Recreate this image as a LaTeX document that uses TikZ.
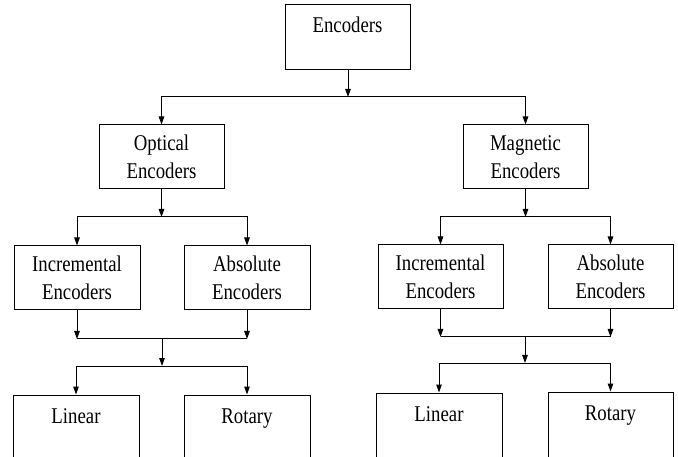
\documentclass[tikz,border=0pt]{standalone}
\usepackage{fontspec}
\setmainfont{Liberation Serif}[FakeStretch=0.835]
\usetikzlibrary{arrows.meta}

\tikzset{
  box/.style={draw, line width=1pt, inner sep=0pt, align=center,
    minimum width=125pt, minimum height=64pt,
    font=\fontsize{22.5}{28}\selectfont},
  topbox/.style={box, text height=16pt, text depth=#1},
  link/.style={line width=1pt},
  arr/.style={link, -{Triangle[length=8pt,width=5.5pt]}},
}

\begin{document}
\begin{tikzpicture}[x=1pt, y=-1pt]
  \useasboundingbox (0,0) rectangle (678,457);
  \clip (0,0) rectangle (678,457);

  % root
  \node[topbox=25pt, minimum height=65pt] (enc) at (347.5,37.5) {Encoders};

  % second level
  \node[box] (opt) at (161.5,157) {Optical\\Encoders};
  \node[box] (mag) at (525.5,157) {Magnetic\\Encoders};

  % third level
  \node[box, minimum width=126pt] (inc1) at (77,278)    {Incremental\\Encoders};
  \node[box, minimum width=126pt] (abs1) at (247,278)   {Absolute\\Encoders};
  \node[box] (inc2) at (440.5,277) {Incremental\\Encoders};
  \node[box] (abs2) at (610.5,277) {Absolute\\Encoders};

  % bottom level (runs past the lower edge)
  \node[topbox=40pt, minimum height=80pt, minimum width=126pt] (lin1) at (76,435)  {Linear};
  \node[topbox=40pt, minimum height=80pt, minimum width=126pt] (rot1) at (247,435) {Rotary};
  \node[topbox=40pt, minimum height=80pt, minimum width=126pt] (lin2) at (439,433) {Linear};
  \node[topbox=40pt, minimum height=80pt] (rot2) at (610.5,432) {Rotary};

  % junction points
  \coordinate (j0) at (348,97);
  \coordinate (jl) at (161.5,217);
  \coordinate (jr) at (525.5,217);
  \coordinate (ml) at (162,339);
  \coordinate (sl) at (162,366);
  \coordinate (mr) at (525,337);
  \coordinate (sr) at (525,363);

  % root split
  \draw[arr] (enc.south -| j0) -- (j0);
  \draw[arr] (j0) -| (opt.north);
  \draw[arr] (j0) -| (mag.north);

  % optical branch
  \draw[arr] (opt.south) -- (jl);
  \draw[arr] (jl) -| (inc1.north);
  \draw[arr] (jl) -| (abs1.north);
  \draw[arr] (inc1.south) -- (inc1.south |- ml);
  \draw[arr] (abs1.south) -- (abs1.south |- ml);
  \draw[link] (inc1.south |- ml) -- (abs1.south |- ml);
  \draw[arr] (ml) -- (sl);
  \draw[arr] (sl) -| (lin1.north);
  \draw[arr] (sl) -| (rot1.north);

  % magnetic branch
  \draw[arr] (mag.south) -- (jr);
  \draw[arr] (jr) -| (inc2.north);
  \draw[arr] (jr) -| (abs2.north);
  \draw[arr] (inc2.south) -- (inc2.south |- mr);
  \draw[arr] (abs2.south) -- (abs2.south |- mr);
  \draw[link] (inc2.south |- mr) -- (abs2.south |- mr);
  \draw[arr] (mr) -- (sr);
  \draw[arr] (sr) -| (lin2.north);
  \draw[arr] (sr) -| (rot2.north);
\end{tikzpicture}
\end{document}
